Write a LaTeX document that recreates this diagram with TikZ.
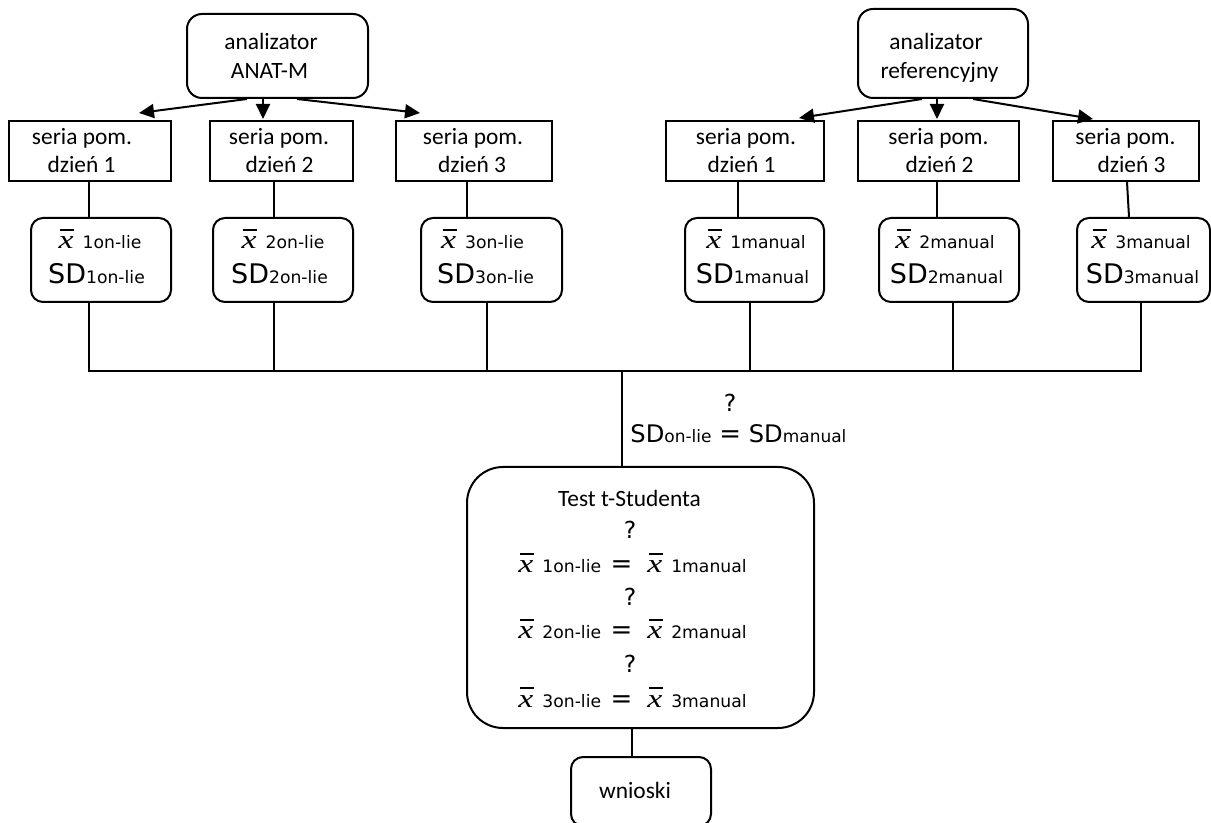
\documentclass[tikz,border=0pt]{standalone}
\usepackage{graphicx}
\usepackage{fontspec}
\setmainfont{Carlito}
\newfontfamily\vf{DejaVu Sans}
\newfontfamily\xf{Liberation Serif}
\usetikzlibrary{arrows.meta}
\newcommand{\xbar}{\makebox[0pt][l]{\hspace{0.8pt}\rule[9.2pt]{7pt}{0.65pt}}{\xf\itshape\fontsize{13}{13}\selectfont\scalebox{1.3}[1]{x}}}
\newcommand{\sbs}[1]{{\vf\fontsize{8.6}{10}\selectfont #1}}
\newcommand{\SDf}{\vf\fontsize{13.5}{16}\selectfont}
\newcommand{\eqf}{\vf\fontsize{13}{16}\selectfont}
\tikzset{
  box/.style={draw, line width=1pt, inner sep=0pt, rectangle},
  rbox/.style={box, rounded corners=6pt},
  txt/.style={anchor=base, inner sep=0pt, font=\fontsize{11.7}{14}\selectfont},
  qm/.style={anchor=base, inner sep=0pt, font=\vf\fontsize{11.7}{14}\selectfont},
  ln/.style={line width=1pt},
  arr/.style={ln, -{Triangle[length=7.5pt,width=7pt]}}
}
\begin{document}
\begin{tikzpicture}[x=0.5pt,y=-0.5pt]
\useasboundingbox (0,0) rectangle (1211,823);
% roots
\node[rbox, rounded corners=7.5pt, minimum width=90.5pt, minimum height=42pt] (rootL) at (277.5,56) {};
\node[txt] (rootLa) at (271,50) {analizator};
\node[txt] (rootLb) at (269.5,79) {ANAT-M};
\node[rbox, rounded corners=7.5pt, minimum width=85pt, minimum height=44.5pt] (rootR) at (943,53.5) {};
\node[txt] (rootRa) at (936,50) {analizator};
\node[txt] (rootRb) at (939.5,79) {referencyjny};
% series
\node[box, minimum width=81pt, minimum height=30pt] (sL1) at (90,151) {};
\node[txt] (sL1a) at (82,145) {seria pom.};
\node[txt] (sL1b) at (81.5,173) {dzień 1};
\node[box, minimum width=71.5pt, minimum height=30pt] (sL2) at (281.5,151) {};
\node[txt] (sL2a) at (279,145) {seria pom.};
\node[txt] (sL2b) at (279.5,173) {dzień 2};
\node[box, minimum width=78pt, minimum height=30pt] (sL3) at (474,151) {};
\node[txt] (sL3a) at (473,145) {seria pom.};
\node[txt] (sL3b) at (472,173) {dzień 3};
\node[box, minimum width=79pt, minimum height=30pt] (sR1) at (745,151) {};
\node[txt] (sR1a) at (746,145) {seria pom.};
\node[txt] (sR1b) at (741.5,173) {dzień 1};
\node[box, minimum width=80.5pt, minimum height=30pt] (sR2) at (938.5,151) {};
\node[txt] (sR2a) at (938.5,145) {seria pom.};
\node[txt] (sR2b) at (939.5,173) {dzień 2};
\node[box, minimum width=73pt, minimum height=30pt] (sR3) at (1126,151) {};
\node[txt] (sR3a) at (1125.5,145) {seria pom.};
\node[txt] (sR3b) at (1131.5,173) {dzień 3};
% stats
\node[rbox, minimum width=70pt, minimum height=42pt] (tL1) at (101,260) {};
\node[txt] (tL1a) at (100,249) {\xbar\hspace{4.5pt}\sbs{1on-lie}};
\node[txt] (tL1b) at (96.5,284) {{\SDf SD}\sbs{1on-lie}};
\node[rbox, minimum width=70pt, minimum height=42pt] (tL2) at (283,260) {};
\node[txt] (tL2a) at (283,249) {\xbar\hspace{4.5pt}\sbs{2on-lie}};
\node[txt] (tL2b) at (279.5,284) {{\SDf SD}\sbs{2on-lie}};
\node[rbox, minimum width=70.5pt, minimum height=42pt] (tL3) at (491.5,260) {};
\node[txt] (tL3a) at (482.5,249) {\xbar\hspace{4.5pt}\sbs{3on-lie}};
\node[txt] (tL3b) at (485.5,284) {{\SDf SD}\sbs{3on-lie}};
\node[rbox, minimum width=69.5pt, minimum height=42pt] (tR1) at (754.5,260) {};
\node[txt] (tR1a) at (756,249) {\xbar\hspace{4.5pt}\sbs{1manual}};
\node[txt] (tR1b) at (752.5,284) {{\SDf SD}\sbs{1manual}};
\node[rbox, minimum width=70pt, minimum height=42pt] (tR2) at (949,260) {};
\node[txt] (tR2a) at (945,249) {\xbar\hspace{4.5pt}\sbs{2manual}};
\node[txt] (tR2b) at (946.5,284) {{\SDf SD}\sbs{2manual}};
\node[rbox, minimum width=66.5pt, minimum height=42pt] (tR3) at (1143.5,260) {};
\node[txt] (tR3a) at (1141,249) {\xbar\hspace{4.5pt}\sbs{3manual}};
\node[txt] (tR3b) at (1142.5,284) {{\SDf SD}\sbs{3manual}};
% arrows
\coordinate (aL1) at (139,113);
\coordinate (aL2) at (263,119);
\coordinate (aL3) at (420,113);
\coordinate (aR1) at (799,118);
\coordinate (aR2) at (937,119);
\coordinate (aR3) at (1093,119);
\draw[arr] (247,0 |- rootL.south) -- (aL1);
\draw[arr] (263,0 |- rootL.south) -- (aL2);
\draw[arr] (297,0 |- rootL.south) -- (aL3);
\draw[arr] (922,0 |- rootR.south) -- (aR1);
\draw[arr] (937,0 |- rootR.south) -- (aR2);
\draw[arr] (973,0 |- rootR.south) -- (aR3);
% series -> stats
\draw[ln] (89,0 |- sL1.south) -- (89,0 |- tL1.north);
\draw[ln] (274,0 |- sL2.south) -- (274,0 |- tL2.north);
\draw[ln] (467,0 |- sL3.south) -- (467,0 |- tL3.north);
\draw[ln] (738,0 |- sR1.south) -- (738,0 |- tR1.north);
\draw[ln] (937,0 |- sR2.south) -- (937,0 |- tR2.north);
\draw[ln] (1127,0 |- sR3.south) -- (1129,0 |- tR3.north);
% bus
\coordinate (busL) at (89,371);
\coordinate (busR) at (1141,371);
\coordinate (busM) at (622,371);
\draw[ln] (89,0 |- tL1.south) -- (busL) -- (busR) -- (1141,0 |- tR3.south);
\draw[ln] (274,0 |- tL2.south) -- (274,0 |- busL);
\draw[ln] (487,0 |- tL3.south) -- (487,0 |- busL);
\draw[ln] (750,0 |- tR1.south) -- (750,0 |- busL);
\draw[ln] (953,0 |- tR2.south) -- (953,0 |- busL);
% SD label
\node[qm] (q0) at (730,412) {?};
\node[txt, anchor=base west, font=\vf\fontsize{12.1}{14}\selectfont] (sdl) at (630,443) {SD{\fontsize{8.5}{10}\selectfont on-lie} {\fontsize{13}{14}\selectfont =} SD{\fontsize{8.5}{10}\selectfont manual}};
% test box
\node[box, rounded corners=18pt, minimum width=173.5pt, minimum height=130.5pt] (test) at (640.5,597.5) {};
\draw[ln] (busM) -- (busM |- test.north);
\node[txt] (tt) at (629.5,507) {Test t-Studenta};
\node[qm] (q1) at (630,539) {?};
\node[txt, anchor=base west] (e1) at (518,573) {\xbar\hspace{4.5pt}\sbs{1on-lie}\hspace{4.7pt}{\eqf =}\hspace{7.5pt}\xbar\hspace{4.5pt}\sbs{1manual}};
\node[qm] (q2) at (630,606) {?};
\node[txt, anchor=base west] (e2) at (518,639) {\xbar\hspace{4.5pt}\sbs{2on-lie}\hspace{4.7pt}{\eqf =}\hspace{7.5pt}\xbar\hspace{4.5pt}\sbs{2manual}};
\node[qm] (q3) at (630,672) {?};
\node[txt, anchor=base west] (e3) at (518,707) {\xbar\hspace{4.5pt}\sbs{3on-lie}\hspace{4.7pt}{\eqf =}\hspace{7.5pt}\xbar\hspace{4.5pt}\sbs{3manual}};
% wnioski
\node[rbox, minimum width=70pt, minimum height=34.5pt] (wn) at (641,791.5) {};
\node[txt] (wnt) at (635,798) {wnioski};
\draw[ln] (632,0 |- test.south) -- (632,0 |- wn.north);
\end{tikzpicture}
\end{document}
